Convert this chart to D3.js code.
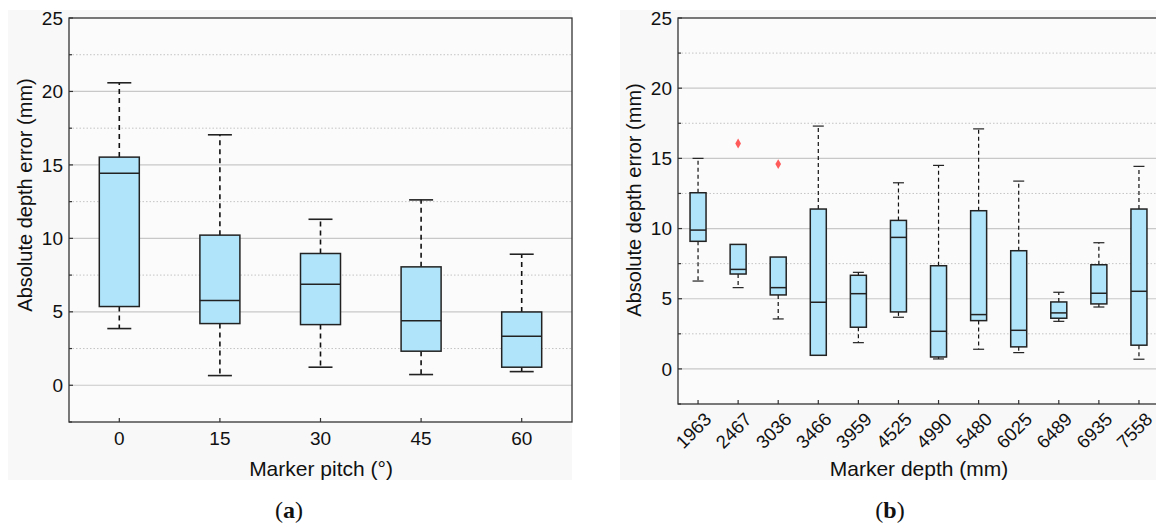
<!DOCTYPE html>
<html>
<head>
<meta charset="utf-8">
<script src="https://cdn.jsdelivr.net/npm/d3@7"></script>
<style>
  body { margin: 0; background: #fff; }
  svg text { font-family: "Liberation Sans", Arial, sans-serif; fill: #111; }
</style>
</head>
<body>
<svg id="chart" width="1156" height="524"></svg>
<script>
// panel (a): marker pitch
const pitchCats = ["0", "15", "30", "45", "60"];
const pitchMin = [3.86, 0.66, 1.23, 0.73, 0.93];
const pitchQ1 = [5.36, 4.2, 4.13, 2.32, 1.23];
const pitchMed = [14.44, 5.77, 6.88, 4.4, 3.34];
const pitchQ3 = [15.53, 10.22, 8.97, 8.06, 4.99];
const pitchMax = [20.59, 17.05, 11.3, 12.62, 8.92];

// panel (b): marker depth
const depthCats = ["1963", "2467", "3036", "3466", "3959", "4525", "4990", "5480", "6025", "6489", "6935", "7558"];
const depthMin = [6.26, 5.79, 3.56, 0.97, 1.87, 3.68, 0.71, 1.4, 1.16, 3.39, 4.41, 0.69];
const depthQ1 = [9.09, 6.76, 5.27, 0.97, 2.97, 4.06, 0.85, 3.44, 1.57, 3.61, 4.63, 1.69];
const depthMed = [9.89, 7.09, 5.79, 4.75, 5.36, 9.37, 2.68, 3.87, 2.75, 3.99, 5.39, 5.53];
const depthQ3 = [12.55, 8.87, 7.97, 11.39, 6.67, 10.58, 7.35, 11.27, 8.42, 4.77, 7.42, 11.39];
const depthMax = [15.0, 8.87, 7.97, 17.3, 6.88, 13.26, 14.5, 17.1, 13.38, 5.46, 8.99, 14.43];
const depthOutCats = ["2467", "3036"];
const depthOutVals = [16.06, 14.59];

const yTicks = [0, 5, 10, 15, 20, 25];
const yMinor = [-2.5, 2.5, 7.5, 12.5, 17.5, 22.5];

const svg = d3.select("#chart");

const drawPanel = (p) => {
  const g = svg.append("g");

  // faint halftone background of the figure panel
  g.append("rect")
    .attr("x", p.bg[0]).attr("y", p.bg[1])
    .attr("width", p.bg[2]).attr("height", p.bg[3])
    .attr("fill", "#f8f8f8");

  const x = d3.scaleLinear().domain([-0.5, p.cats.length - 0.5]).range([p.left, p.right]);
  const y = d3.scaleLinear().domain([-2.5, 25]).range([p.bottom, p.top]);

  g.append("rect")
    .attr("x", p.left).attr("y", p.top)
    .attr("width", p.right - p.left).attr("height", p.bottom - p.top)
    .attr("fill", "#fbfbfb");

  // grid
  g.selectAll(".major").data(yTicks.slice(0, -1)).enter().append("line")
    .attr("x1", p.left).attr("x2", p.right)
    .attr("y1", (d) => y(d)).attr("y2", (d) => y(d))
    .attr("stroke", "#c8c8c8").attr("stroke-width", 1.2);
  g.selectAll(".minor").data(yMinor.slice(1)).enter().append("line")
    .attr("x1", p.left).attr("x2", p.right)
    .attr("y1", (d) => y(d)).attr("y2", (d) => y(d))
    .attr("stroke", "#c4c4c4").attr("stroke-width", 1)
    .attr("stroke-dasharray", "1.5,2");

  // boxes
  const idx = d3.range(p.cats.length);
  const boxes = g.selectAll(".box").data(idx).enter().append("g");

  boxes.filter((i) => p.max[i] > p.q3[i]).append("line")
    .attr("x1", (i) => x(i)).attr("x2", (i) => x(i))
    .attr("y1", (i) => y(p.q3[i])).attr("y2", (i) => y(p.max[i]))
    .attr("stroke", "#111").attr("stroke-width", p.ww)
    .attr("stroke-dasharray", p.dash);
  boxes.filter((i) => p.min[i] < p.q1[i]).append("line")
    .attr("x1", (i) => x(i)).attr("x2", (i) => x(i))
    .attr("y1", (i) => y(p.q1[i])).attr("y2", (i) => y(p.min[i]))
    .attr("stroke", "#111").attr("stroke-width", p.ww)
    .attr("stroke-dasharray", p.dash);
  boxes.filter((i) => p.max[i] > p.q3[i]).append("line")
    .attr("x1", (i) => x(i) - p.cap / 2).attr("x2", (i) => x(i) + p.cap / 2)
    .attr("y1", (i) => y(p.max[i])).attr("y2", (i) => y(p.max[i]))
    .attr("stroke", "#222").attr("stroke-width", p.ww);
  boxes.filter((i) => p.min[i] < p.q1[i]).append("line")
    .attr("x1", (i) => x(i) - p.cap / 2).attr("x2", (i) => x(i) + p.cap / 2)
    .attr("y1", (i) => y(p.min[i])).attr("y2", (i) => y(p.min[i]))
    .attr("stroke", "#222").attr("stroke-width", p.ww);

  boxes.append("rect")
    .attr("x", (i) => x(i) - p.bw / 2).attr("width", p.bw)
    .attr("y", (i) => y(p.q3[i]))
    .attr("height", (i) => y(p.q1[i]) - y(p.q3[i]))
    .attr("fill", "#b0e4fa").attr("stroke", "#222").attr("stroke-width", 1.5);
  boxes.append("line")
    .attr("x1", (i) => x(i) - p.bw / 2).attr("x2", (i) => x(i) + p.bw / 2)
    .attr("y1", (i) => y(p.med[i])).attr("y2", (i) => y(p.med[i]))
    .attr("stroke", "#222").attr("stroke-width", 1.5);

  if (p.outCats) {
    g.selectAll(".out").data(p.outCats).enter().append("path")
      .attr("d", d3.symbol(d3.symbolDiamond, 28))
      .attr("transform", (c, k) => `translate(${x(p.cats.indexOf(c))},${y(p.outVals[k])})`)
      .attr("fill", "#ff5b5b");
  }

  // frame
  g.append("rect")
    .attr("x", p.left).attr("y", p.top)
    .attr("width", p.right - p.left).attr("height", p.bottom - p.top)
    .attr("fill", "none").attr("stroke", "#333").attr("stroke-width", 1.3);

  // y axis ticks (inward)
  g.selectAll(".yt").data(yTicks.concat(yMinor)).enter().append("line")
    .attr("x1", p.left).attr("x2", (d) => p.left + (d % 5 === 0 ? 4 : 3))
    .attr("y1", (d) => y(d)).attr("y2", (d) => y(d))
    .attr("stroke", "#333").attr("stroke-width", 1.2);
  g.selectAll(".yl").data(yTicks).enter().append("text")
    .attr("x", p.left - 6).attr("y", (d) => y(d))
    .attr("dy", "0.35em").attr("text-anchor", "end")
    .style("font-size", "19px")
    .text((d) => d);

  // x axis ticks (inward)
  g.selectAll(".xt").data(idx).enter().append("line")
    .attr("x1", (i) => x(i)).attr("x2", (i) => x(i))
    .attr("y1", p.bottom).attr("y2", p.bottom - 4)
    .attr("stroke", "#333").attr("stroke-width", 1.2);

  if (p.rotate) {
    g.selectAll(".xl").data(idx).enter().append("text")
      .attr("transform", (i) => `translate(${x(i) + 10},${p.bottom + 12}) rotate(-45)`)
      .attr("text-anchor", "end").attr("dy", "0.35em")
      .style("font-size", "18.5px")
      .text((i) => p.cats[i]);
  } else {
    g.selectAll(".xl").data(idx).enter().append("text")
      .attr("x", (i) => x(i)).attr("y", p.bottom + 16)
      .attr("dy", "0.35em").attr("text-anchor", "middle")
      .style("font-size", "19px")
      .text((i) => p.cats[i]);
  }

  g.append("text")
    .attr("x", p.xTitle[0]).attr("y", p.xTitle[1])
    .attr("dy", "0.35em").attr("text-anchor", "middle")
    .style("font-size", "21px")
    .text(p.xLabel);
  g.append("text")
    .attr("transform", `translate(${p.yTitle[0]},${p.yTitle[1]}) rotate(-90)`)
    .attr("dy", "0.35em").attr("text-anchor", "middle")
    .style("font-size", "20px")
    .text("Absolute depth error (mm)");

  const tag = g.append("text")
    .attr("x", p.tag[0]).attr("y", p.tag[1])
    .attr("dy", "0.35em").attr("text-anchor", "middle")
    .style("font-family", "'Liberation Serif', 'DejaVu Serif', serif")
    .style("font-size", "24px");
  tag.append("tspan").text("(");
  tag.append("tspan").style("font-weight", "bold").text(p.tagLetter);
  tag.append("tspan").text(")");
};

drawPanel({
  cats: pitchCats, min: pitchMin, q1: pitchQ1, med: pitchMed, q3: pitchQ3, max: pitchMax,
  left: 69, right: 572, top: 18, bottom: 422,
  bg: [8, 10, 564, 470],
  bw: 40, cap: 24, ww: 1.6, dash: "5,4",
  rotate: false,
  xLabel: "Marker pitch (°)", xTitle: [321, 469], yTitle: [25, 195],
  tag: [289, 510], tagLetter: "a"
});

drawPanel({
  cats: depthCats, min: depthMin, q1: depthQ1, med: depthMed, q3: depthQ3, max: depthMax,
  outCats: depthOutCats, outVals: depthOutVals,
  left: 678, right: 1159, top: 18, bottom: 404,
  bg: [620, 10, 540, 470],
  bw: 16, cap: 11, ww: 1.2, dash: "4,3",
  rotate: true,
  xLabel: "Marker depth (mm)", xTitle: [919, 469], yTitle: [634, 200],
  tag: [890, 510], tagLetter: "b"
});
</script>
</body>
</html>
